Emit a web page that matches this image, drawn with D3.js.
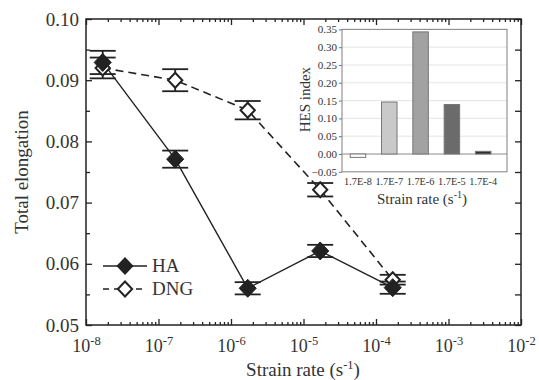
<!DOCTYPE html>
<html>
<head>
<meta charset="utf-8">
<script src="https://cdn.jsdelivr.net/npm/d3@7"></script>
<style>
  html, body { margin: 0; padding: 0; background: #fff; }
  svg, svg text { font-family: 'Liberation Serif', 'DejaVu Serif', serif; }
  svg { display: block; }
  .domain { display: none; }
</style>
</head>
<body>
<svg width="539" height="380"></svg>
<script>
// main chart data
const rates = [1.7e-8, 1.7e-7, 1.7e-6, 1.7e-5, 1.7e-4]
const haValues = [0.0929, 0.0771, 0.0560, 0.0621, 0.0561]
const haErrors = [0.0019, 0.0014, 0.0010, 0.0010, 0.0010]
const dngValues = [0.0920, 0.0900, 0.0851, 0.0721, 0.0574]
const dngErrors = [0.0017, 0.0018, 0.0015, 0.0011, 0.0008]
const yTicks = [0.05, 0.06, 0.07, 0.08, 0.09, 0.10]
const xTicks = [1e-8, 1e-7, 1e-6, 1e-5, 1e-4, 1e-3, 1e-2]

// inset data
const insetLabels = ['1.7E-8', '1.7E-7', '1.7E-6', '1.7E-5', '1.7E-4']
const hesValues = [-0.0095, 0.146, 0.343, 0.139, 0.0075]
const hesFills = ['#ffffff', '#c9c9c9', '#a2a2a2', '#6b6b6b', '#2e2e2e']
const insetTicks = [-0.05, 0, 0.05, 0.1, 0.15, 0.2, 0.25, 0.3, 0.35]

const ink = '#222'
const txt = '#333'
const serif = "'Liberation Serif', 'DejaVu Serif', serif"

main()

function main() {
  const svg = d3.select('svg')

  const pL = 86, pR = 521, pT = 19, pB = 325
  const x = d3.scaleLog().domain([1e-8, 1e-2]).range([pL, pR])
  const y = d3.scaleLinear().domain([0.05, 0.10]).range([pB, pT])

  const minorX = []
  for (let e = -8; e < -2; e++) {
    for (let k = 2; k <= 9; k++) minorX.push(k * Math.pow(10, e))
  }
  const minorY = d3.range(0.055, 0.1, 0.01)

  // axes with inward ticks
  function styleAxis(g) {
    g.attr('font-family', serif)
    g.selectAll('line').attr('stroke', ink).attr('stroke-width', 1.3)
    g.selectAll('text').attr('fill', txt)
  }

  svg.append('g').attr('transform', `translate(0,${pB})`)
    .call(d3.axisBottom(x).tickValues(xTicks).tickSize(-6).tickPadding(14).tickFormat(''))
    .call(styleAxis)
    .selectAll('.tick text').each(function (d) {
      const t = d3.select(this).attr('font-size', 18).attr('dy', '0.71em')
      t.append('tspan').text('10')
      t.append('tspan').attr('dy', -7).attr('font-size', 12.5).text(Math.round(Math.log10(d)))
    })
  svg.append('g').attr('transform', `translate(0,${pB})`)
    .call(d3.axisBottom(x).tickValues(minorX).tickSize(-3).tickFormat(''))
    .call(styleAxis)
  svg.append('g').attr('transform', `translate(0,${pT})`)
    .call(d3.axisTop(x).tickValues(xTicks).tickSize(-6).tickFormat(''))
    .call(styleAxis)
  svg.append('g').attr('transform', `translate(0,${pT})`)
    .call(d3.axisTop(x).tickValues(minorX).tickSize(-3).tickFormat(''))
    .call(styleAxis)

  svg.append('g').attr('transform', `translate(${pL},0)`)
    .call(d3.axisLeft(y).tickValues(yTicks).tickSize(-6).tickPadding(7).tickFormat(d3.format('.2f')))
    .call(styleAxis)
    .selectAll('text').attr('font-size', 19)
  svg.append('g').attr('transform', `translate(${pL},0)`)
    .call(d3.axisLeft(y).tickValues(minorY).tickSize(-4).tickFormat(''))
    .call(styleAxis)
  svg.append('g').attr('transform', `translate(${pR},0)`)
    .call(d3.axisRight(y).tickValues(yTicks.concat(minorY)).tickSize(-6).tickFormat(''))
    .call(styleAxis)

  svg.append('rect')
    .attr('x', pL).attr('y', pT).attr('width', pR - pL).attr('height', pB - pT)
    .attr('fill', 'none').attr('stroke', ink).attr('stroke-width', 1.5)

  // axis titles
  svg.append('text')
    .attr('transform', `translate(28,${(pT + pB) / 2}) rotate(-90)`)
    .attr('text-anchor', 'middle').attr('font-size', 19).attr('fill', txt)
    .text('Total elongation')

  const xt = svg.append('text')
    .attr('x', 303).attr('y', 376).attr('text-anchor', 'middle')
    .attr('font-size', 19).attr('fill', txt)
  xt.append('tspan').text('Strain rate (s')
  xt.append('tspan').attr('dy', -7).attr('font-size', 12.5).text('-1')
  xt.append('tspan').attr('dy', 7).text(')')

  // inset
  const iL = 342, iR = 507, iT = 29.4, iB = 171.8
  const iy = d3.scaleLinear().domain([-0.05, 0.35]).range([iB, iT])
  const ix = d3.scaleLinear().domain([0.49, 5.76]).range([iL, iR])
  const barW = 15.5

  const inset = svg.append('g')
  inset.append('rect')
    .attr('x', iL).attr('y', iT).attr('width', iR - iL).attr('height', iB - iT)
    .attr('fill', '#fff')

  inset.selectAll('.grid').data(insetTicks.slice(1, -1)).enter().append('line')
    .attr('x1', iL).attr('x2', iR)
    .attr('y1', (d) => iy(d)).attr('y2', (d) => iy(d))
    .attr('stroke', (d) => (d === 0 ? '#8a8a8a' : '#e2e2e2'))
    .attr('stroke-width', (d) => (d === 0 ? 1.1 : 0.9))

  inset.selectAll('.bar').data(hesValues).enter().append('rect')
    .attr('x', (d, i) => ix(i + 1) - barW / 2)
    .attr('width', barW)
    .attr('y', (d) => iy(Math.max(0, d)))
    .attr('height', (d) => Math.abs(iy(d) - iy(0)))
    .attr('fill', (d, i) => hesFills[i])
    .attr('stroke', '#777').attr('stroke-width', 1)

  inset.append('rect')
    .attr('x', iL).attr('y', iT).attr('width', iR - iL).attr('height', iB - iT)
    .attr('fill', 'none').attr('stroke', '#8a8a8a').attr('stroke-width', 1.1)

  inset.append('g').attr('transform', `translate(${iL},0)`)
    .call(d3.axisLeft(iy).tickValues(insetTicks).tickSize(3).tickPadding(2).tickFormat(d3.format('.2f')))
    .call((g) => {
      g.attr('font-family', serif)
      g.selectAll('line').attr('stroke', '#777')
      g.selectAll('text').attr('fill', txt).attr('font-size', 11)
    })

  inset.selectAll('.xl').data(insetLabels).enter().append('text')
    .attr('x', (d, i) => ix(i + 1)).attr('y', 185)
    .attr('text-anchor', 'middle').attr('font-size', 10.3).attr('fill', txt)
    .text((d) => d)

  const it = inset.append('text')
    .attr('x', 422).attr('y', 204).attr('text-anchor', 'middle')
    .attr('font-size', 15).attr('fill', txt)
  it.append('tspan').text('Strain rate (s')
  it.append('tspan').attr('dy', -6).attr('font-size', 10).text('-1')
  it.append('tspan').attr('dy', 6).text(')')

  inset.append('text')
    .attr('transform', `translate(310,${(iT + iB) / 2 - 1}) rotate(-90)`)
    .attr('text-anchor', 'middle').attr('font-size', 15).attr('fill', txt)
    .text('HES index')

  // series
  const diamond = (s) => `M0,${-s}L${s * 0.95},0L0,${s}L${-s * 0.95},0Z`

  const dng = rates.map((r, i) => ({ r, v: dngValues[i], e: dngErrors[i] }))
  const ha = rates.map((r, i) => ({ r, v: haValues[i], e: haErrors[i] }))

  const line = d3.line().x((d) => x(d.r)).y((d) => y(d.v))

  svg.append('path').datum(dng).attr('d', line)
    .attr('fill', 'none').attr('stroke', ink).attr('stroke-width', 1.6)
    .attr('stroke-dasharray', '8,5')
  svg.append('path').datum(ha).attr('d', line)
    .attr('fill', 'none').attr('stroke', ink).attr('stroke-width', 1.4)

  function errorBars(data) {
    const g = svg.append('g').attr('stroke', ink).attr('stroke-width', 1.8)
    data.forEach((d) => {
      const cx = x(d.r)
      g.append('line').attr('x1', cx).attr('x2', cx).attr('y1', y(d.v + d.e)).attr('y2', y(d.v - d.e))
      g.append('line').attr('x1', cx - 13).attr('x2', cx + 13).attr('y1', y(d.v + d.e)).attr('y2', y(d.v + d.e))
      g.append('line').attr('x1', cx - 13).attr('x2', cx + 13).attr('y1', y(d.v - d.e)).attr('y2', y(d.v - d.e))
    })
  }
  errorBars(dng)
  errorBars(ha)

  svg.selectAll('.dng').data(dng).enter().append('path')
    .attr('transform', (d) => `translate(${x(d.r)},${y(d.v)})`)
    .attr('d', diamond(7.5))
    .attr('fill', '#fff').attr('stroke', ink).attr('stroke-width', 2)
  svg.selectAll('.ha').data(ha).enter().append('path')
    .attr('transform', (d) => `translate(${x(d.r)},${y(d.v)})`)
    .attr('d', diamond(9))
    .attr('fill', ink).attr('stroke', ink).attr('stroke-width', 1)

  // legend
  const lg = svg.append('g')
  lg.append('line').attr('x1', 103).attr('x2', 147).attr('y1', 266).attr('y2', 266)
    .attr('stroke', ink).attr('stroke-width', 1.4)
  lg.append('path').attr('transform', 'translate(125,266)').attr('d', diamond(9)).attr('fill', ink)
  lg.append('text').attr('x', 152).attr('y', 272).attr('font-size', 19).attr('fill', txt).text('HA')
  lg.append('line').attr('x1', 103).attr('x2', 147).attr('y1', 289).attr('y2', 289)
    .attr('stroke', ink).attr('stroke-width', 1.6).attr('stroke-dasharray', '6,5')
  lg.append('path').attr('transform', 'translate(125,289)').attr('d', diamond(7.5))
    .attr('fill', '#fff').attr('stroke', ink).attr('stroke-width', 2)
  lg.append('text').attr('x', 152).attr('y', 295).attr('font-size', 19).attr('fill', txt).text('DNG')
}
</script>
</body>
</html>
